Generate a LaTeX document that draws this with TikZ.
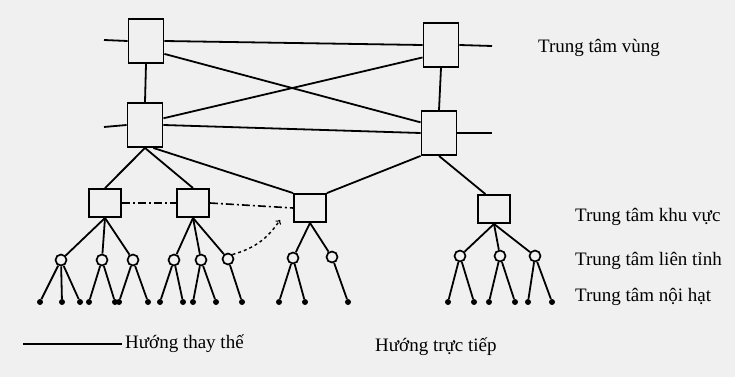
\documentclass[tikz,border=0pt]{standalone}
\usepackage{fontspec}
\setmainfont{Liberation Serif}
\usepackage{tikz}
\usetikzlibrary{arrows, calc}
\definecolor{scangrey}{rgb}{0.94, 0.94, 0.94}
\tikzset{
    vung/.style = {rectangle, draw, line width = 1.9pt, minimum width = 35pt, minimum height = 44pt, inner sep = 0pt},
    khuvuc/.style = {rectangle, draw, line width = 1.9pt, minimum width = 32pt, minimum height = 28pt, inner sep = 0pt},
    lientinh/.style = {circle, draw, line width = 1.7pt, minimum size = 11pt, inner sep = 0pt},
    noihat/.style = {circle, fill, minimum size = 6pt, inner sep = 0pt},
    nhan/.style = {anchor = west, inner sep = 0pt, font = \fontsize{19}{22}\selectfont},
    link/.style = {line width = 1.8pt},
    dashdot/.style = {line width = 1.6pt, dash pattern = on 8pt off 3pt on 2pt off 3pt}
}

\begin{document}
\begin{tikzpicture}[x = 1pt, y = -1pt]
        \fill [scangrey] (0,0) rectangle (735,377);
        \useasboundingbox (0,0) rectangle (735,377);

        \node (tvA) [vung] at (146,41) {};
        \node (tvB) [vung] at (441,45) {};
        \node (tvC) [vung] at (145,125) {};
        \node (tvD) [vung] at (439,133) {};

        \node (kvE) [khuvuc] at (105,203) {};
        \node (kvF) [khuvuc] at (193,203) {};
        \node (kvG) [khuvuc] at (310,208) {};
        \node (kvH) [khuvuc] at (494,209) {};

        \foreach \x/\y [count = \i] in {61/260, 102/260, 133/260, 174/260, 201/260, 228/259, 293/258, 332/257, 460/256, 500/256, 535/256}
        {
            \node (lt\i) [lientinh] at (\x,\y) {};
        }

        \foreach \c/\x [count = \i] in {1/40, 1/62, 1/80, 2/89, 2/115, 3/119, 3/148, 4/160, 4/183, 5/193, 5/216, 6/242, 7/279, 7/305, 8/348, 9/448, 9/474, 10/489, 10/515, 11/528, 11/552}
        {
            \node (nh\i) [noihat] at (\x,302) {};
            \draw [link] (lt\c) -- (nh\i);
        }

        \coordinate (stubA) at (104,40);
        \coordinate (stubB) at (492,46);
        \coordinate (stubC) at (104,127);
        \coordinate (stubD) at (492,133);
        \draw [link] (stubA) -- (tvA.west);
        \draw [link] (tvB.east) -- (stubB);
        \draw [link] (stubC) -- (tvC.west);
        \draw [link] (tvD.east) -- (stubD);

        \draw [link] (tvA.east) -- (tvB.west);
        \draw [link] (tvA.-35) -- (tvD.150);
        \draw [link] (tvC.20) -- (tvB.214);
        \draw [link] (tvC.east) -- (tvD.west);
        \draw [link] (tvA.south) -- (tvC.north);
        \draw [link] (tvB.south) -- (tvD.north);

        \draw [link] (tvC.south) -- (kvE.north);
        \draw [link] (tvC.south) -- (kvF.north);
        \draw [link] (tvC.-70) -- (kvG.north west);
        \draw [link] (tvD.south west) -- (kvG.north east);
        \draw [link] (tvD.south) -- (kvH.120);

        \foreach \b/\c in {kvE/1, kvE/2, kvE/3, kvF/4, kvF/5, kvF/6, kvG/7, kvG/8, kvH/9, kvH/10, kvH/11}
        {
            \draw [link] (\b.south) -- (lt\c);
        }

        \draw [dashdot] (kvE.east) -- (kvF.west);
        \draw [dashdot] (kvF.east) -- (kvG.west);

        \coordinate (chuyen) at (280,220);
        \draw [line width = 1.4pt, dashed, ->] (lt6.north east) to [bend right = 20] (chuyen);

        \node (lbVung) [nhan] at (538,48) {Trung tâm vùng};
        \node (lbKhuVuc) [nhan] at (575,217) {Trung tâm khu vực};
        \node (lbLienTinh) [nhan] at (575,261) {Trung tâm liên tỉnh};
        \node (lbNoiHat) [nhan] at (575,297) {Trung tâm nội hạt};

        \coordinate (lgStart) at (23,344);
        \node (lgThayThe) [nhan] at (125,344) {Hướng thay thế};
        \draw [link] (lgStart) -- ([xshift = -3pt]lgThayThe.west);
        \node (lgTrucTiep) [nhan] at (375,347) {Hướng trực tiếp};
    \end{tikzpicture}
\end{document}
